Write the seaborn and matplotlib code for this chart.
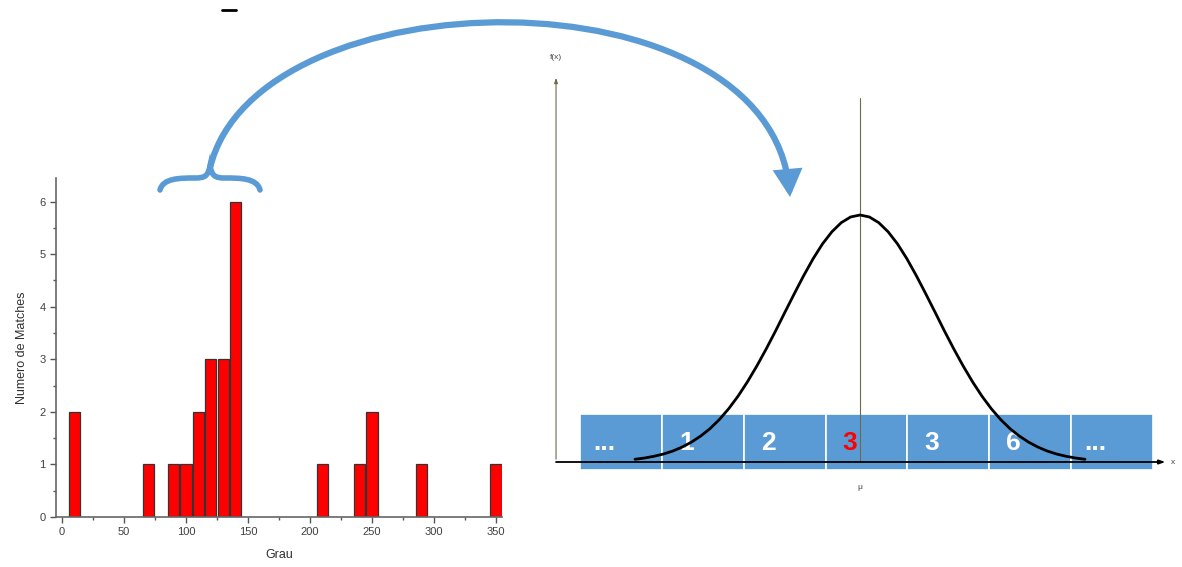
import numpy as np
import matplotlib.pyplot as plt
import seaborn as sns
from matplotlib.path import Path
from matplotlib.patches import FancyArrowPatch, PathPatch, Rectangle
from matplotlib.ticker import MultipleLocator

sns.set_style("ticks")
plt.rcParams['font.family'] = ['Liberation Sans', 'DejaVu Sans']

# histograma de matches por grau
grau = [10, 70, 90, 100, 110, 120, 130, 140, 210, 240, 250, 290, 350]
matches = [2, 1, 1, 1, 2, 3, 3, 6, 1, 1, 2, 1, 1]

# curva normal esquematica (x em unidades de sigma, altura relativa ao pico)
curva_x = [-3.0, -2.875, -2.75, -2.625, -2.5, -2.375, -2.25, -2.125, -2.0, -1.875, -1.75, -1.625,
           -1.5, -1.375, -1.25, -1.125, -1.0, -0.875, -0.75, -0.625, -0.5, -0.375, -0.25, -0.125,
           0.0,
           0.125, 0.25, 0.375, 0.5, 0.625, 0.75, 0.875, 1.0, 1.125, 1.25, 1.375, 1.5,
           1.625, 1.75, 1.875, 2.0, 2.125, 2.25, 2.375, 2.5, 2.625, 2.75, 2.875, 3.0]
curva_y = [0.011, 0.016, 0.023, 0.032, 0.044, 0.060, 0.080, 0.105, 0.135, 0.172, 0.216, 0.267,
           0.325, 0.389, 0.458, 0.531, 0.607, 0.682, 0.755, 0.823, 0.883, 0.932, 0.969, 0.992,
           1.0,
           0.992, 0.969, 0.932, 0.883, 0.823, 0.755, 0.682, 0.607, 0.531, 0.458, 0.389, 0.325,
           0.267, 0.216, 0.172, 0.135, 0.105, 0.080, 0.060, 0.044, 0.032, 0.023, 0.016, 0.011]

# caixas de contagem por bin
caixas = ["...", "1", "2", "3", "3", "6", "..."]
caixa_destaque = 3

AZUL = "#5b9bd5"
W, H = 1182, 567

fig = plt.figure(figsize=(W / 100, H / 100), dpi=100)

# ---------------------------------------------------------
# 1. Histograma (esquerda)
# ---------------------------------------------------------
ax1 = fig.add_axes([56 / W, 50 / H, 446 / W, 339 / H])
sns.barplot(x=grau, y=matches, native_scale=True, width=0.9, color="#ff0000",
            edgecolor="#333333", linewidth=0.9, errorbar=None, ax=ax1, saturation=1)
ax1.set_xlim(-4.8, 354.8)
ax1.set_ylim(0, 6.45)
ax1.set_xticks(range(0, 351, 50))
ax1.set_yticks(range(0, 7))
ax1.xaxis.set_minor_locator(MultipleLocator(25))
ax1.yaxis.set_minor_locator(MultipleLocator(0.5))
ax1.tick_params(which="major", length=4, width=1, color="#555555", labelsize=8, labelcolor="#404040")
ax1.tick_params(which="minor", length=2.5, width=1, color="#555555")
for s in ["top", "right"]:
    ax1.spines[s].set_visible(False)
for s in ["left", "bottom"]:
    ax1.spines[s].set_color("#666666")
    ax1.spines[s].set_linewidth(1.2)
ax1.set_xlabel("Grau", fontsize=9, color="#303030", labelpad=8)
ax1.set_ylabel("Numero de Matches", fontsize=9, color="#303030", labelpad=8)
ax1.patch.set_alpha(0)

# ---------------------------------------------------------
# 2. Distribuicao normal (direita)
# ---------------------------------------------------------
ax2 = fig.add_axes([540 / W, 67 / H, 642 / W, 460 / H])
ax2.set_xlim((540 - 860) / 75, (1182 - 860) / 75)
ax2.set_ylim((462 - 500) / 247, (462 - 40) / 247)
ax2.axis("off")

cx0 = (580 - 860) / 75
cw = (1153 - 580) / 75 / len(caixas)
for i, lab in enumerate(caixas):
    ax2.add_patch(Rectangle((cx0 + i * cw, -0.032), cw, 0.226, facecolor=AZUL,
                            edgecolor="white", linewidth=1.2, zorder=1))
    ax2.text(cx0 + i * cw + 0.3 * cw, 0.075, lab, ha="center", va="center",
             fontsize=19, fontweight="bold",
             color="#ff0000" if i == caixa_destaque else "white", zorder=2)

sns.lineplot(x=curva_x, y=curva_y, ax=ax2, color="black", linewidth=2, zorder=4)

ax2.plot([0, 0], [0, 1.474], color="#6b6b4a", linewidth=0.8, zorder=3)
ax2.annotate("", xy=(-4.053, 1.567), xytext=(-4.053, 0),
             arrowprops=dict(arrowstyle="-|>,head_length=0.3,head_width=0.1", color="#6b6b4a", lw=0.8))
ax2.annotate("", xy=(4.11, 0), xytext=(-4.09, 0),
             arrowprops=dict(arrowstyle="-|>,head_length=0.35,head_width=0.12", color="black", lw=1.3),
             zorder=3)
ax2.text(-4.053, 1.636, "f(x)", fontsize=6, ha="center", va="center", color="#444444")
ax2.text(0, -0.105, "μ", fontsize=6, ha="center", va="center", color="#444444")
ax2.text(4.15, 0.0, "x", fontsize=6, ha="left", va="center", color="#444444")

# ---------------------------------------------------------
# 3. Chave e seta curva (sobreposicao em pixels)
# ---------------------------------------------------------
ov = fig.add_axes([0, 0, 1, 1], zorder=10)
ov.set_xlim(0, W)
ov.set_ylim(H, 0)
ov.axis("off")
ov.patch.set_alpha(0)

chave = Path([(160, 190), (163, 178), (180, 178), (195, 178),
              (205, 178), (208, 176), (210, 166),
              (212, 176), (215, 178), (225, 178),
              (240, 178), (257, 178), (260, 190)],
             [Path.MOVETO] + [Path.CURVE4] * 12)
ov.add_patch(PathPatch(chave, facecolor="none", edgecolor=AZUL, linewidth=4, capstyle="round"))

arco = Path([(210, 168), (256, -26), (770, -34), (790, 197)],
            [Path.MOVETO, Path.CURVE4, Path.CURVE4, Path.CURVE4])
ov.add_patch(FancyArrowPatch(path=arco, arrowstyle="-|>,head_length=6,head_width=3.2",
                             color=AZUL, linewidth=4.5, mutation_scale=2.2, joinstyle="miter"))

ov.plot([222, 236], [10, 10], color="black", linewidth=2)

fig.savefig("out.png", dpi=100)
